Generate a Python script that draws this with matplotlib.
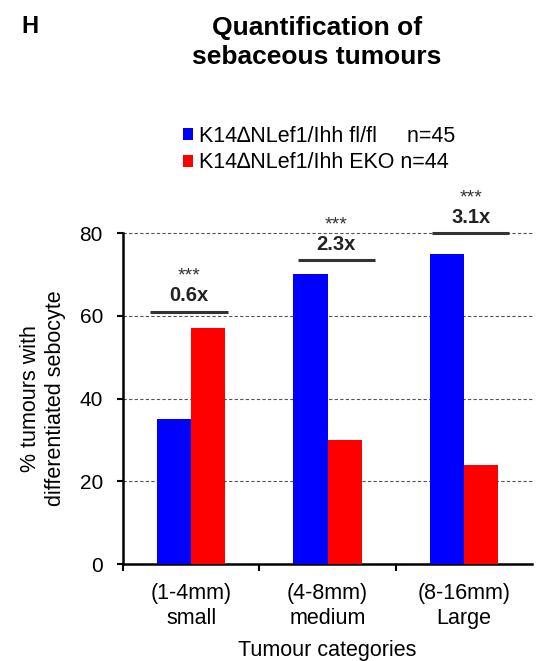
import matplotlib
matplotlib.use("Agg")
import matplotlib.pyplot as plt
import numpy as np

plt.rcParams['font.family'] = ['Liberation Sans', 'DejaVu Sans']

categories = ["(1-4mm)\nsmall", "(4-8mm)\nmedium", "(8-16mm)\nLarge"]
flfl = [35, 70, 75]
eko = [57, 30, 24]
fold = ["0.6x", "2.3x", "3.1x"]
stars = ["***", "***", "***"]
sig_height = [61, 73.5, 80]
labels = ["K14\u2206NLef1/Ihh fl/fl     n=45", "K14\u2206NLef1/Ihh EKO n=44"]

fig = plt.figure(figsize=(5.42, 6.61), dpi=100)
ax = fig.add_axes([0.227, 0.1467, 0.7545, 0.5008])

x = np.arange(len(categories))
w = 0.25
b1 = ax.bar(x - w / 2, flfl, w, color='#0000ff', label=labels[0], zorder=3)
b2 = ax.bar(x + w / 2, eko, w, color='#ff0000', label=labels[1], zorder=3)

ax.set_xlim(-0.5, 2.5)
ax.set_ylim(0, 80)
ax.set_yticks([0, 20, 40, 60, 80])
ax.tick_params(axis='y', labelsize=15, direction='out', length=4.5, width=1.5, pad=10)
ax.set_xticks([-0.5, 0.5, 1.5])
ax.set_xticklabels([])
ax.tick_params(axis='x', which='major', direction='out', length=5, width=1.5)
ax.set_xticks(x, minor=True)
ax.set_xticklabels(categories, minor=True, fontsize=15.5)
ax.tick_params(axis='x', which='minor', length=0, pad=14)

for s in ['top', 'right']:
    ax.spines[s].set_visible(False)
for s in ['left', 'bottom']:
    ax.spines[s].set_linewidth(1.8)

for yv in [20, 40, 60, 80]:
    ax.axhline(yv, color='#555555', lw=0.8, ls=(0, (3, 2)), zorder=1, clip_on=False)

ax.set_ylabel("% tumours with\ndifferentiated sebocyte", fontsize=15.5, labelpad=10)
ax.set_xlabel("Tumour categories", fontsize=15.5, labelpad=8.5)

# significance lines
offs = [(-0.30, 0.27), (-0.22, 0.35), (-0.23, 0.33)]
for i in range(3):
    x0, x1 = offs[i]
    ax.plot([i + x0, i + x1], [sig_height[i], sig_height[i]], color='#333333', lw=2.2,
            clip_on=False, zorder=4, solid_capstyle='butt')
    xc = i + (x0 + x1) / 2
    ax.text(xc, sig_height[i] + 1.5, fold[i], ha='center', va='bottom', fontsize=14.5,
            fontweight='bold', color='#222222')
    ax.text(xc, sig_height[i] + 6.5, stars[i], ha='center', va='bottom', fontsize=14,
            color='#333333')

fig.text(0.04, 0.978, "H", fontsize=17, fontweight='bold', va='top')
fig.text(0.585, 0.976, "Quantification of\nsebaceous tumours", fontsize=19,
         fontweight='bold', ha='center', va='top', linespacing=1.25)

fig.legend(handles=[b1, b2], loc='upper left', bbox_to_anchor=(0.322, 0.823),
           frameon=False, fontsize=15.5, handlelength=0.45, handleheight=0.45,
           handletextpad=0.3, labelspacing=0.27, borderaxespad=0)

fig.savefig("out.png", dpi=100)
